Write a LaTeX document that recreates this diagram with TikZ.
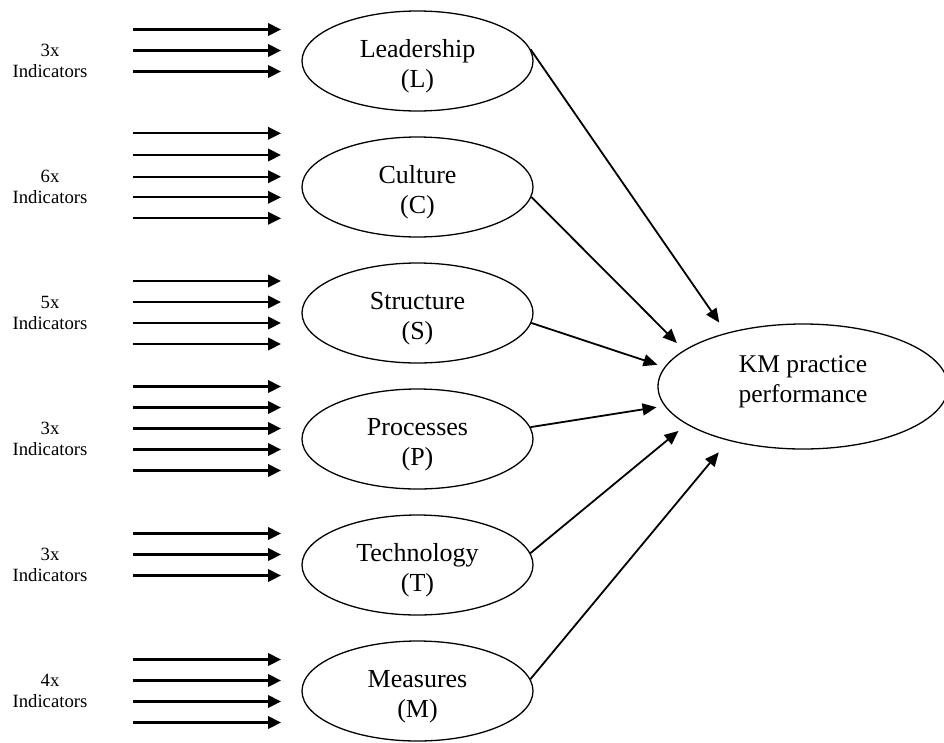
\documentclass[tikz,border=0pt]{standalone}
\usepackage{fontspec}
\setmainfont{Liberation Serif}
\usetikzlibrary{arrows.meta,shapes.geometric}
\newcommand{\uprule}{\rule{0pt}{28pt}}
\newcommand{\downrule}{\rule[-14pt]{0pt}{1pt}}
\begin{document}
\begin{tikzpicture}[x=1pt,y=-1pt,
  latent/.style={ellipse,draw,line width=1.3pt,minimum width=231pt,minimum height=100pt,inner sep=0pt,align=center,font=\fontsize{26}{30}\selectfont},
  outcome/.style={ellipse,draw,line width=1.3pt,minimum width=290pt,minimum height=125pt,inner sep=0pt,align=center,font=\fontsize{25.5}{30}\selectfont},
  indlabel/.style={align=center,font=\fontsize{18.7}{21.5}\selectfont,inner sep=0pt},
  indarrow/.style={line width=2.2pt,-{Triangle[length=13pt,width=12.5pt]}},
  patharrow/.style={line width=1.8pt,-{Triangle[length=14pt,width=12pt]}}]
\useasboundingbox (0,0) rectangle (944,742);

% indicator arrows
\foreach \y [count=\i] in {29.5,50.5,71.5,133.3,155,176.7,197.3,218.3,281,302,323,344,386.5,407.5,428.5,449.5,470.5,533.5,554.5,575.5,659.5,680.5,701.5,722.5}{
  \coordinate (s\i) at (133,\y);
  \coordinate (e\i) at (281,\y);
  \draw[indarrow] (s\i) -- (e\i);
}

% indicator labels
\node[indlabel] (iL) at (50,61) {3x\\Indicators};
\node[indlabel] (iC) at (50,187) {6x\\Indicators};
\node[indlabel] (iS) at (50,313) {5x\\Indicators};
\node[indlabel] (iP) at (50,439) {3x\\Indicators};
\node[indlabel] (iT) at (50,565) {3x\\Indicators};
\node[indlabel] (iM) at (50,691) {4x\\Indicators};

% latent constructs
\node[latent] (L) at (417.5,61) {\uprule Leadership\\(L)};
\node[latent] (C) at (417.5,187) {\uprule Culture\\(C)};
\node[latent] (S) at (417.5,313) {\uprule Structure\\(S)};
\node[latent] (P) at (417.5,439) {\uprule Processes\\(P)};
\node[latent] (T) at (417.5,565) {\uprule Technology\\(T)};
\node[latent] (M) at (417.5,691) {\uprule Measures\\(M)};

\node[outcome] (KM) at (803,386.5) {KM practice\\performance\downrule};

% paths
\draw[patharrow,shorten >=12.4pt] (L.6) -- (KM.145);
\draw[patharrow,shorten >=10pt] (C.-5) -- (KM.163);
\draw[patharrow,shorten >=7.4pt] (S.-5) -- (KM.172);
\draw[patharrow,shorten >=8pt] (P.6) -- (KM.-172);
\draw[patharrow,shorten >=10.3pt] (T.6) -- (KM.-162);
\draw[patharrow,shorten >=15pt] (M.6) -- (KM.-144);
\end{tikzpicture}
\end{document}
